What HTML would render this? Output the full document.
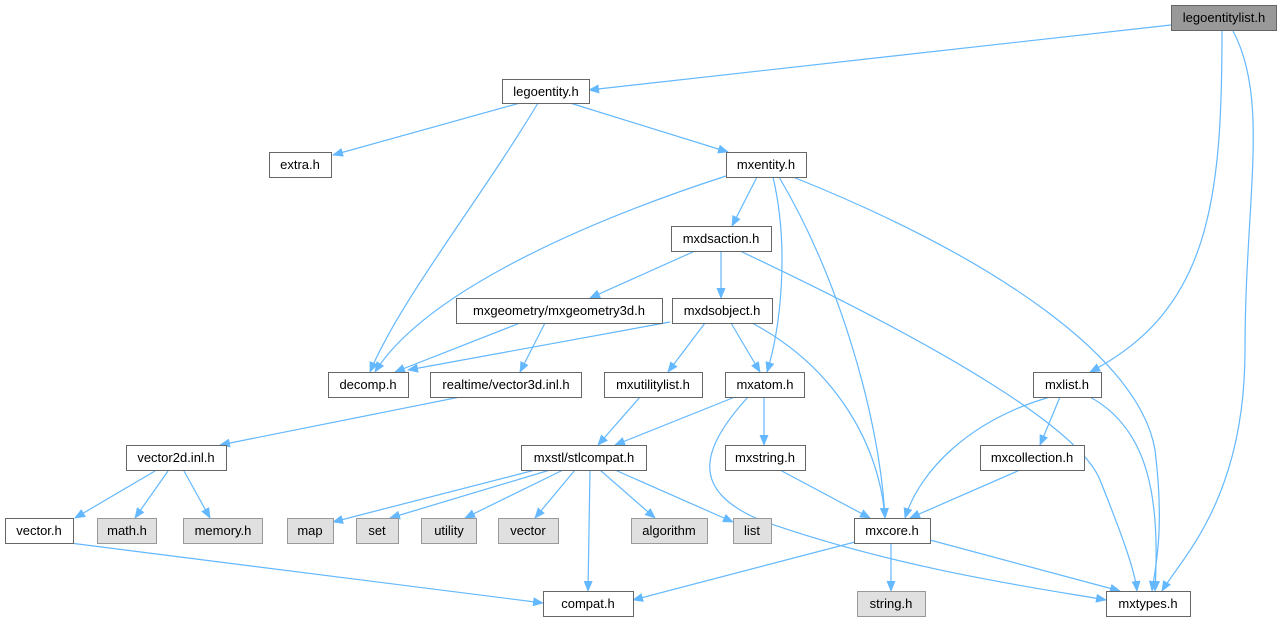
<!DOCTYPE html>
<html><head><meta charset="utf-8"><style>
body{margin:0;background:#fff}
svg text{font-family:"Liberation Sans",sans-serif;font-size:13px;fill:#000;text-anchor:middle}
</style></head><body>
<svg width="1281" height="623" xmlns="http://www.w3.org/2000/svg">
<defs><marker id="a" markerWidth="11" markerHeight="9" refX="10" refY="4.5" orient="auto" markerUnits="userSpaceOnUse"><path d="M0,0 L11,4.5 L0,9 z" fill="#63b8ff"/></marker></defs>
<g fill="none" stroke="#63b8ff" stroke-width="1.2" marker-end="url(#a)">
<path d="M1171,25 L589,90"/>
<path d="M1222,31 C1222,200 1210,310 1090,372"/>
<path d="M1233,31 C1270,100 1245,200 1245,350 C1245,500 1180,560 1162,591"/>
<path d="M520,103 L333,155"/>
<path d="M538,103 C480,200 400,300 370,372"/>
<path d="M570,103 L728,152"/>
<path d="M726,176 C560,230 420,300 375,372"/>
<path d="M757,177 L732,226"/>
<path d="M773,177 C790,250 780,330 767,372"/>
<path d="M779,177 C840,280 880,420 885,518"/>
<path d="M793,177 C1000,260 1140,360 1155,450 C1165,530 1155,570 1152,591"/>
<path d="M695,251 L590,298"/>
<path d="M721,251 L721,298"/>
<path d="M740,251 C950,350 1080,430 1100,480 C1120,530 1135,570 1137,591"/>
<path d="M520,323 L395,372"/>
<path d="M545,323 L520,372"/>
<path d="M670,322 L408,370"/>
<path d="M705,323 L668,372"/>
<path d="M731,323 L760,372"/>
<path d="M752,323 C840,370 880,450 885,518"/>
<path d="M460,397 L220,445"/>
<path d="M640,397 L598,445"/>
<path d="M735,397 L615,445"/>
<path d="M764,397 L764,445"/>
<path d="M748,397 C700,450 690,490 760,520 C900,570 1050,590 1106,600"/>
<path d="M1050,397 C970,420 920,470 905,518"/>
<path d="M1060,397 L1040,445"/>
<path d="M1090,397 C1150,430 1160,500 1155,591"/>
<path d="M155,471 L75,518"/>
<path d="M168,471 L135,518"/>
<path d="M184,471 L210,518"/>
<path d="M535,470 L333,522"/>
<path d="M550,470 L390,518"/>
<path d="M563,470 L465,518"/>
<path d="M575,470 L535,518"/>
<path d="M590,470 L588,591"/>
<path d="M600,470 L655,518"/>
<path d="M615,470 L733,522"/>
<path d="M780,470 L870,518"/>
<path d="M1020,470 L910,518"/>
<path d="M70,543 L543,603"/>
<path d="M855,542 L633,600"/>
<path d="M891,543 L891,591"/>
<path d="M930,540 L1120,591"/>
</g>
<g stroke="#666" stroke-width="1">
<rect x="1171.5" y="5.5" width="105" height="25" fill="#999"/>
<rect x="502.5" y="79.5" width="87" height="24" fill="#fff"/>
<rect x="269.5" y="152.5" width="62" height="25" fill="#fff"/>
<rect x="726.5" y="152.5" width="80" height="25" fill="#fff"/>
<rect x="671.5" y="226.5" width="100" height="25" fill="#fff"/>
<rect x="456.5" y="298.5" width="206" height="25" fill="#fff"/>
<rect x="672.5" y="298.5" width="100" height="25" fill="#fff"/>
<rect x="328.5" y="372.5" width="80" height="25" fill="#fff"/>
<rect x="430.5" y="372.5" width="151" height="25" fill="#fff"/>
<rect x="604.5" y="372.5" width="98" height="25" fill="#fff"/>
<rect x="725.5" y="372.5" width="79" height="25" fill="#fff"/>
<rect x="1033.5" y="372.5" width="68" height="25" fill="#fff"/>
<rect x="126.5" y="445.5" width="100" height="25" fill="#fff"/>
<rect x="521.5" y="445.5" width="125" height="25" fill="#fff"/>
<rect x="725.5" y="445.5" width="80" height="25" fill="#fff"/>
<rect x="980.5" y="445.5" width="104" height="25" fill="#fff"/>
<rect x="5.5" y="518.5" width="68" height="25" fill="#fff"/>
<rect x="854.5" y="518.5" width="76" height="25" fill="#fff"/>
<rect x="543.5" y="591.5" width="90" height="25" fill="#fff"/>
<rect x="1106.5" y="591.5" width="84" height="25" fill="#fff"/>
</g>
<g stroke="#999" stroke-width="1" fill="#e0e0e0">
<rect x="97.5" y="518.5" width="59" height="25"/>
<rect x="183.5" y="518.5" width="79" height="25"/>
<rect x="287.5" y="518.5" width="46" height="25"/>
<rect x="356.5" y="518.5" width="42" height="25"/>
<rect x="421.5" y="518.5" width="55" height="25"/>
<rect x="498.5" y="518.5" width="60" height="25"/>
<rect x="631.5" y="518.5" width="76" height="25"/>
<rect x="733.5" y="518.5" width="38" height="25"/>
<rect x="857.5" y="591.5" width="68" height="25"/>
</g>
<text x="1224" y="22">legoentitylist.h</text>
<text x="546" y="96">legoentity.h</text>
<text x="300" y="169">extra.h</text>
<text x="766" y="169">mxentity.h</text>
<text x="721" y="243">mxdsaction.h</text>
<text x="559" y="315">mxgeometry/mxgeometry3d.h</text>
<text x="722" y="315">mxdsobject.h</text>
<text x="368" y="389">decomp.h</text>
<text x="506" y="389">realtime/vector3d.inl.h</text>
<text x="653" y="389">mxutilitylist.h</text>
<text x="765" y="389">mxatom.h</text>
<text x="1067" y="389">mxlist.h</text>
<text x="176" y="462">vector2d.inl.h</text>
<text x="584" y="462">mxstl/stlcompat.h</text>
<text x="765" y="462">mxstring.h</text>
<text x="1032" y="462">mxcollection.h</text>
<text x="39" y="535">vector.h</text>
<text x="127" y="535">math.h</text>
<text x="223" y="535">memory.h</text>
<text x="310" y="535">map</text>
<text x="377" y="535">set</text>
<text x="449" y="535">utility</text>
<text x="528" y="535">vector</text>
<text x="669" y="535">algorithm</text>
<text x="752" y="535">list</text>
<text x="892" y="535">mxcore.h</text>
<text x="588" y="608">compat.h</text>
<text x="891" y="608">string.h</text>
<text x="1148" y="608">mxtypes.h</text>
</svg>
</body></html>
